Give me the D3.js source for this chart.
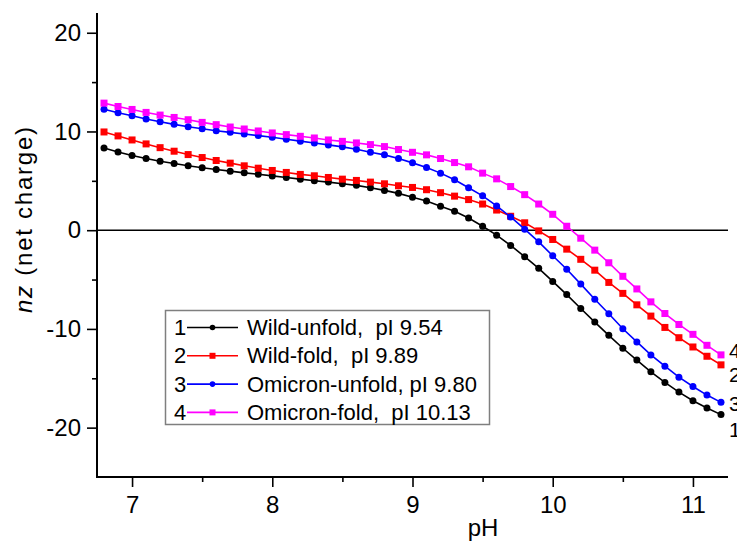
<!DOCTYPE html>
<html>
<head>
<meta charset="utf-8">
<script src="https://cdn.jsdelivr.net/npm/d3@7"></script>
<style>
  html, body { margin: 0; padding: 0; background: #fff; }
  svg { display: block; font-family: "Liberation Sans", Arial, sans-serif; }
</style>
</head>
<body>
<svg id="chart" width="737" height="541"></svg>
<script>
// pH sampling points (0.1 steps)
const pH = [6.8, 6.9, 7.0, 7.1, 7.2, 7.3, 7.4, 7.5, 7.6, 7.7, 7.8, 7.9, 8.0, 8.1, 8.2,
            8.3, 8.4, 8.5, 8.6, 8.7, 8.8, 8.9, 9.0, 9.1, 9.2, 9.3, 9.4, 9.5, 9.6, 9.7,
            9.8, 9.9, 10.0, 10.1, 10.2, 10.3, 10.4, 10.5, 10.6, 10.7, 10.8, 10.9, 11.0, 11.1, 11.2];

// net charge nz for each variant
const wildUnfold = [8.33, 7.93, 7.56, 7.26, 6.99, 6.75, 6.52, 6.32, 6.15, 5.98, 5.81, 5.67, 5.50, 5.33, 5.17,
                    5.01, 4.87, 4.70, 4.54, 4.30, 4.03, 3.73, 3.33, 2.95, 2.42, 1.92, 1.24, 0.40, -0.50, -1.55,
                    -2.69, -3.86, -5.19, -6.52, -7.93, -9.31, -10.65, -11.96, -13.15, -14.35, -15.42, -16.40, -17.27, -18.01, -18.68];
const wildFold = [9.95, 9.55, 9.14, 8.74, 8.36, 8.00, 7.66, 7.36, 7.06, 6.79, 6.52, 6.28, 6.05, 5.85, 5.65,
                  5.51, 5.34, 5.17, 5.04, 4.87, 4.70, 4.50, 4.33, 4.10, 3.80, 3.45, 3.10, 2.65, 2.04, 1.41,
                  0.75, -0.07, -0.94, -1.92, -2.95, -4.05, -5.29, -6.40, -7.56, -8.70, -9.85, -10.89, -11.83, -12.77, -13.64];
const omicronUnfold = [12.26, 11.90, 11.59, 11.26, 10.99, 10.72, 10.48, 10.28, 10.08, 9.91, 9.74, 9.58, 9.41, 9.22, 9.02,
                       8.84, 8.64, 8.44, 8.20, 7.89, 7.63, 7.26, 6.82, 6.35, 5.78, 5.11, 4.30, 3.48, 2.46, 1.34,
                       0.10, -1.18, -2.59, -3.96, -5.46, -7.00, -8.47, -9.98, -11.32, -12.63, -13.78, -14.89, -15.83, -16.70, -17.44];
const omicronFold = [12.87, 12.53, 12.23, 11.93, 11.66, 11.42, 11.19, 10.92, 10.69, 10.45, 10.25, 10.05, 9.85, 9.68, 9.51,
                     9.34, 9.14, 9.00, 8.84, 8.67, 8.47, 8.17, 7.89, 7.63, 7.26, 6.85, 6.42, 5.78, 5.20, 4.42,
                     3.60, 2.65, 1.61, 0.40, -0.81, -2.02, -3.30, -4.67, -5.95, -7.26, -8.44, -9.55, -10.55, -11.66, -12.63];

const seriesNames = ["Wild-unfold,  pI 9.54", "Wild-fold,  pI 9.89", "Omicron-unfold, pI 9.80", "Omicron-fold,  pI 10.13"];
const seriesIds = ["1", "2", "3", "4"];
const seriesColors = ["#000000", "#ff0000", "#0000ff", "#ff00ff"];
const seriesSymbols = ["circle", "square", "circle", "square"];
const seriesValues = [wildUnfold, wildFold, omicronUnfold, omicronFold];

const xTicks = [7, 8, 9, 10, 11];
const xMinorTicks = [7.5, 8.5, 9.5, 10.5];
const yTicks = [-20, -10, 0, 10, 20];
const yMinorTicks = [-15, -5, 5, 15];

const svg = d3.select("#chart");
const plotLeft = 97, plotRight = 728, plotTop = 13, plotBottom = 477;

const x = d3.scaleLinear().domain([6.75, 11.25]).range([plotLeft, plotRight]);
const y = d3.scaleLinear().domain([-25, 22]).range([plotBottom, plotTop]);

// tick labels use a plain hyphen for negatives
const plainInt = d => String(d);

// zero reference line
svg.append("line")
  .attr("x1", x(6.75)).attr("x2", x(11.25))
  .attr("y1", y(0)).attr("y2", y(0))
  .attr("stroke", "#000").attr("stroke-width", 1.6);

// axes: major ticks with labels, minor ticks without
const fontSize = 24;
svg.append("g").attr("transform", `translate(${plotLeft},0)`)
  .call(d3.axisLeft(y).tickValues(yTicks).tickSize(10).tickPadding(6).tickFormat(plainInt));
svg.append("g").attr("transform", `translate(${plotLeft},0)`)
  .call(d3.axisLeft(y).tickValues(yMinorTicks).tickSize(5).tickFormat(""));
svg.append("g").attr("transform", `translate(0,${plotBottom})`)
  .call(d3.axisBottom(x).tickValues(xTicks).tickSize(10).tickPadding(9).tickFormat(plainInt));
svg.append("g").attr("transform", `translate(0,${plotBottom})`)
  .call(d3.axisBottom(x).tickValues(xMinorTicks).tickSize(5).tickFormat(""));

svg.selectAll(".domain").remove();
svg.selectAll(".tick line").attr("stroke", "#000").attr("stroke-width", 1.6);
svg.selectAll(".tick text")
  .attr("font-family", "Liberation Sans, Arial, sans-serif")
  .attr("font-size", fontSize).attr("fill", "#000");

// axis spines
svg.append("line").attr("x1", plotLeft).attr("x2", plotLeft).attr("y1", plotTop).attr("y2", plotBottom + 1)
  .attr("stroke", "#000").attr("stroke-width", 2);
svg.append("line").attr("x1", plotLeft - 1).attr("x2", plotRight).attr("y1", plotBottom).attr("y2", plotBottom)
  .attr("stroke", "#000").attr("stroke-width", 2);

// axis titles
svg.append("text")
  .attr("x", 483).attr("y", 536)
  .attr("text-anchor", "middle")
  .attr("font-size", 24)
  .text("pH");

const yTitle = svg.append("text")
  .attr("transform", `translate(32,220) rotate(-90)`)
  .attr("text-anchor", "middle")
  .attr("font-size", 24)
  .attr("textLength", 186)
  .attr("lengthAdjust", "spacing");
yTitle.append("tspan").attr("font-style", "italic").text("nz");
yTitle.append("tspan").text(" (net charge)");

// series lines and markers
const line = d3.line().x((d, i) => x(pH[i])).y(d => y(d));
seriesValues.forEach((vals, s) => {
  const g = svg.append("g");
  g.append("path")
    .attr("d", line(vals))
    .attr("fill", "none")
    .attr("stroke", seriesColors[s])
    .attr("stroke-width", 1.6);
  if (seriesSymbols[s] === "circle") {
    g.selectAll("circle").data(vals).join("circle")
      .attr("cx", (d, i) => x(pH[i])).attr("cy", d => y(d))
      .attr("r", 3.5).attr("fill", seriesColors[s]);
  } else {
    g.selectAll("rect").data(vals).join("rect")
      .attr("x", (d, i) => x(pH[i]) - 3.5).attr("y", d => y(d) - 3.5)
      .attr("width", 7).attr("height", 7).attr("fill", seriesColors[s]);
  }
});

// end labels beside each curve
const endLabelY = [437, 382, 411, 358];
seriesIds.forEach((id, s) => {
  svg.append("text")
    .attr("x", 729).attr("y", endLabelY[s])
    .attr("font-size", 21)
    .text(id);
});

// legend
const legend = svg.append("g");
legend.append("rect")
  .attr("x", 165.5).attr("y", 310.5).attr("width", 324).attr("height", 114)
  .attr("fill", "#fff").attr("stroke", "#7f7f7f").attr("stroke-width", 1.5);
seriesNames.forEach((name, s) => {
  const base = 335 + s * 28.3;
  const cy = base - 7.5;
  legend.append("text").attr("x", 174).attr("y", base).attr("font-size", 22).text(seriesIds[s]);
  legend.append("line").attr("x1", 187).attr("x2", 238).attr("y1", cy).attr("y2", cy)
    .attr("stroke", seriesColors[s]).attr("stroke-width", 1.6);
  if (seriesSymbols[s] === "circle") {
    legend.append("circle").attr("cx", 212.5).attr("cy", cy).attr("r", 2.8).attr("fill", seriesColors[s]);
  } else {
    legend.append("rect").attr("x", 209.5).attr("y", cy - 3).attr("width", 6).attr("height", 6).attr("fill", seriesColors[s]);
  }
  legend.append("text").attr("x", 247).attr("y", base).attr("font-size", 22)
    .style("white-space", "pre").attr("xml:space", "preserve").text(name);
});
</script>
</body>
</html>
